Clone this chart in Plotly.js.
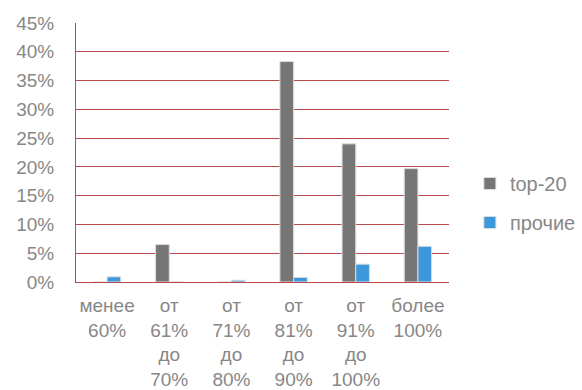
<!DOCTYPE html>
<html><head><meta charset="utf-8">
<script src="https://cdn.plot.ly/plotly-3.0.1.min.js"></script>
<style>html,body{margin:0;padding:0;background:#fff;}#c{width:582px;height:390px;}</style>
</head><body><div id="c"></div>
<script>
const categories = ["менее<br>60%", "от<br>61%<br>до<br>70%", "от<br>71%<br>до<br>80%", "от<br>81%<br>до<br>90%", "от<br>91%<br>до<br>100%", "более<br>100%"];
const top20 = [0, 0.065, 0, 0.383, 0.240, 0.197];
const others = [0.009, 0, 0.003, 0.008, 0.031, 0.062];
const yTicks = [0, 0.05, 0.10, 0.15, 0.20, 0.25, 0.30, 0.35, 0.40, 0.45];

const font = {family: "Liberation Sans, Arial, sans-serif", size: 19, color: "#878787"};
const legendFont = {family: "Liberation Sans, Arial, sans-serif", size: 20, color: "#878787"};
const traces = [
  {type: "bar", name: "top-20", x: categories, y: top20, legendgroup: "a",
   marker: {color: "#767676", line: {color: "#dcdcdc", width: 1}}},
  {type: "bar", name: "прочие", x: categories, y: others, legendgroup: "b",
   marker: {color: "#3d97dc", line: {color: "#dcdcdc", width: 1}}}
];
const layout = {
  width: 582, height: 390,
  margin: {l: 76, r: 133, t: 23, b: 108, autoexpand: false},
  paper_bgcolor: "#fff", plot_bgcolor: "#fff",
  font: font,
  barmode: "group", bargap: 0.56, bargroupgap: 0,
  showlegend: true,
  legend: {x: 1.056, xanchor: "left", y: 0.305, yanchor: "middle", font: legendFont,
           traceorder: "grouped", tracegroupgap: 10, itemwidth: 30},
  xaxis: {type: "category", showgrid: false, showline: true, linecolor: "#b94a4c", linewidth: 1,
          ticks: "", tickfont: font, fixedrange: true, automargin: false, ticklabelstandoff: 6},
  yaxis: {range: [0, 0.45], tickvals: yTicks, tickformat: ".0%", showgrid: true,
          gridcolor: "#b94a4c", gridwidth: 1, showline: true, linecolor: "#b94a4c",
          zeroline: false, ticks: "outside", ticklen: 17, tickcolor: "rgba(0,0,0,0)",
          tickfont: font, automargin: false}
};
Plotly.newPlot("c", traces, layout, {staticPlot: true});
</script></body></html>
